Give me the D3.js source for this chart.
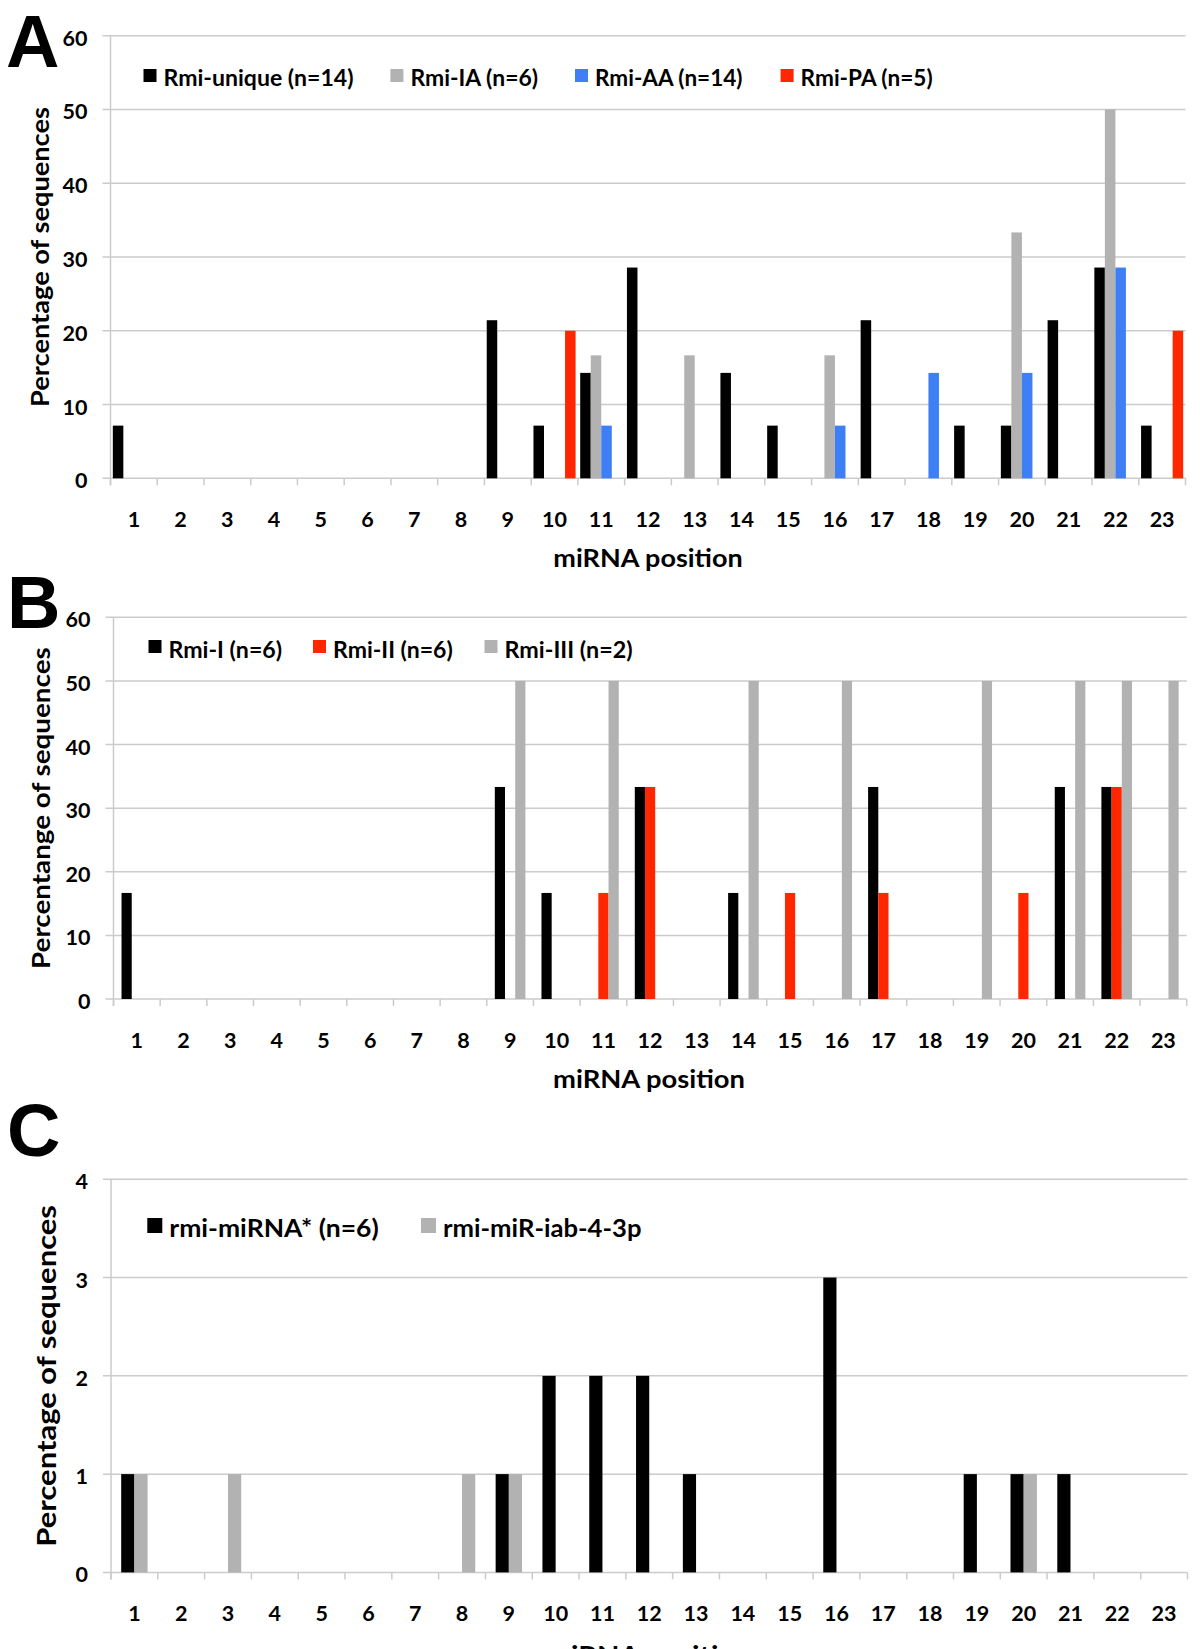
<!DOCTYPE html>
<html>
<head>
<meta charset="utf-8">
<script src="https://cdn.jsdelivr.net/npm/d3@7"></script>
<style>
  html, body { margin: 0; padding: 0; background: #fff; }
  svg { display: block; }
  text { font-family: Lato, "Open Sans", "Liberation Sans", sans-serif; font-weight: bold; fill: #000; }
  .panel-letter { font-family: "Liberation Sans", Arial, sans-serif; font-weight: bold; }
</style>
</head>
<body>
<svg id="chart" width="1200" height="1649"></svg>
<script>
// ---------------- DATA ----------------
const positions = ["1","2","3","4","5","6","7","8","9","10","11","12","13","14","15","16","17","18","19","20","21","22","23"];

// Panel A
const seriesA = ["Rmi-unique (n=14)", "Rmi-IA (n=6)", "Rmi-AA (n=14)", "Rmi-PA (n=5)"];
const rmiUnique = [7.14,0,0,0,0,0,0,0,21.43,7.14,14.29,28.57,0,14.29,7.14,0,21.43,0,7.14,7.14,21.43,28.57,7.14];
const rmiIA     = [0,0,0,0,0,0,0,0,0,0,16.67,0,16.67,0,0,16.67,0,0,0,33.33,0,50,0];
const rmiAA     = [0,0,0,0,0,0,0,0,0,0,7.14,0,0,0,0,7.14,0,14.29,0,14.29,0,28.57,0];
const rmiPA     = [0,0,0,0,0,0,0,0,0,20,0,0,0,0,0,0,0,0,0,0,0,0,20];
const ticksA = [0,10,20,30,40,50,60];

// Panel B
const seriesB = ["Rmi-I (n=6)", "Rmi-II (n=6)", "Rmi-III (n=2)"];
const rmiI   = [16.67,0,0,0,0,0,0,0,33.33,16.67,0,33.33,0,16.67,0,0,33.33,0,0,0,33.33,33.33,0];
const rmiII  = [0,0,0,0,0,0,0,0,0,0,16.67,33.33,0,0,16.67,0,16.67,0,0,16.67,0,33.33,0];
const rmiIII = [0,0,0,0,0,0,0,0,50,0,50,0,0,50,0,50,0,0,50,0,50,50,50];
const ticksB = [0,10,20,30,40,50,60];

// Panel C
const seriesC = ["rmi-miRNA* (n=6)", "rmi-miR-iab-4-3p"];
const rmiStar = [1,0,0,0,0,0,0,0,1,2,2,2,1,0,0,3,0,0,1,1,1,0,0];
const rmiIab  = [1,0,1,0,0,0,0,1,1,0,0,0,0,0,0,0,0,0,0,1,0,0,0];
const ticksC = [0,1,2,3,4];

// ---------------- STYLE / LAYOUT ----------------
const BLACK = "#000000", GRAY = "#b2b2b2", BLUE = "#3f7ff6", RED = "#ff2600";
const GRID = "#cbcbcb";

const panels = [
  {
    letter: "A", letterX: 6, letterY: 67,
    series: seriesA, values: [rmiUnique, rmiIA, rmiAA, rmiPA], colors: [BLACK, GRAY, BLUE, RED],
    ticks: ticksA, domainMax: 60,
    x0: 110.5, x1: 1185.5, yTop: 35.7, yZero: 478.3, padOuter: 0.22,
    legend: { xs: [143.5, 390.4, 575, 780.6], top: 69, size: 13, baseline: 86, font: 22,
              lens: [190, 127.7, 147.5, 132] },
    yTitle: "Percentage of sequences", yTitleX: 49, yTitleFont: 25, yTitleLen: 300,
    xTitle: "miRNA position", xTitleX: 648, xTitleFont: 25, xTitleLen: 189.4, xTitleDy: 88.5
  },
  {
    letter: "B", letterX: 7, letterY: 628,
    series: seriesB, values: [rmiI, rmiII, rmiIII], colors: [BLACK, RED, GRAY],
    ticks: ticksB, domainMax: 60,
    x0: 113.5, x1: 1186.7, yTop: 617.3, yZero: 999, padOuter: 0.787,
    legend: { xs: [148.5, 313, 484.5], top: 640, size: 13, baseline: 658, font: 22,
              lens: [113.6, 119.8, 128.1] },
    yTitle: "Percentange of sequences", yTitleX: 50, yTitleFont: 25, yTitleLen: 321.6,
    xTitle: "miRNA position", xTitleX: 649, xTitleFont: 25, xTitleLen: 192, xTitleDy: 88.5
  },
  {
    letter: "C", letterX: 7, letterY: 1156,
    series: seriesC, values: [rmiStar, rmiIab], colors: [BLACK, GRAY],
    ticks: ticksC, domainMax: 4,
    x0: 111, x1: 1187.5, yTop: 1179.3, yZero: 1572.4, padOuter: 0.773,
    legend: { xs: [147.3, 421], top: 1218, size: 15, baseline: 1237, font: 25,
              lens: [209.4, 198.5] },
    yTitle: "Percentage of sequences", yTitleX: 56, yTitleFont: 27, yTitleLen: 341.7,
    xTitle: "miRNA position", xTitleX: 649, xTitleFont: 27, xTitleLen: 205, xTitleDy: 93
  }
];

const svg = d3.select("#chart");
svg.append("rect").attr("width", 1200).attr("height", 1649).attr("fill", "#fff");

panels.forEach(p => {
  const g = svg.append("g");

  const x = d3.scaleBand().domain(positions).range([p.x0, p.x1]).paddingInner(0).paddingOuter(0);
  const xs = d3.scaleBand().domain(d3.range(p.series.length)).range([0, x.bandwidth()])
               .paddingInner(0).paddingOuter(p.padOuter);
  const y = d3.scaleLinear().domain([0, p.domainMax]).range([p.yZero, p.yTop]);

  // gridlines
  g.append("g").selectAll("line").data(p.ticks).join("line")
    .attr("x1", p.x0 - 8).attr("x2", p.x1)
    .attr("y1", d => y(d)).attr("y2", d => y(d))
    .attr("stroke", GRID).attr("stroke-width", 1.5);

  // y axis line
  g.append("line").attr("x1", p.x0).attr("x2", p.x0).attr("y1", p.yTop).attr("y2", p.yZero + 7)
    .attr("stroke", GRID).attr("stroke-width", 1.5);

  // x ticks at category boundaries
  const bounds = positions.map(c => x(c)).concat([p.x1]);
  g.append("g").selectAll("line").data(bounds).join("line")
    .attr("x1", d => d).attr("x2", d => d)
    .attr("y1", p.yZero).attr("y2", p.yZero + 7)
    .attr("stroke", GRID).attr("stroke-width", 1.5);

  // y tick labels
  g.append("g").selectAll("text").data(p.ticks).join("text")
    .attr("x", p.x0 - 23).attr("y", d => y(d) + 10)
    .attr("text-anchor", "end").attr("font-size", 21.5)
    .text(d => d);

  // x tick labels
  g.append("g").selectAll("text").data(positions).join("text")
    .attr("x", d => x(d) + x.bandwidth() / 2).attr("y", p.yZero + 48.5)
    .attr("text-anchor", "middle").attr("font-size", 21.5)
    .text(d => d);

  // bars
  p.series.forEach((s, si) => {
    const data = positions.map((c, i) => ({ c, v: p.values[si][i] })).filter(d => d.v > 0);
    g.append("g").selectAll("rect").data(data).join("rect")
      .attr("x", d => x(d.c) + xs(si))
      .attr("width", xs.bandwidth())
      .attr("y", d => y(d.v))
      .attr("height", d => y(0) - y(d.v))
      .attr("fill", p.colors[si]);
  });

  // legend
  p.series.forEach((s, si) => {
    const lx = p.legend.xs[si];
    g.append("rect").attr("x", lx).attr("y", p.legend.top)
      .attr("width", p.legend.size).attr("height", p.legend.size).attr("fill", p.colors[si]);
    g.append("text").attr("x", lx + p.legend.size + 7).attr("y", p.legend.baseline)
      .attr("font-size", p.legend.font)
      .attr("textLength", p.legend.lens[si]).attr("lengthAdjust", "spacingAndGlyphs")
      .text(s);
  });

  // axis titles
  const cy = (p.yTop + p.yZero) / 2;
  g.append("text")
    .attr("transform", `translate(${p.yTitleX},${cy}) rotate(-90)`)
    .attr("text-anchor", "middle").attr("font-size", p.yTitleFont)
    .attr("textLength", p.yTitleLen).attr("lengthAdjust", "spacingAndGlyphs")
    .text(p.yTitle);
  g.append("text")
    .attr("x", p.xTitleX).attr("y", p.yZero + p.xTitleDy)
    .attr("text-anchor", "middle").attr("font-size", p.xTitleFont)
    .attr("textLength", p.xTitleLen).attr("lengthAdjust", "spacingAndGlyphs")
    .text(p.xTitle);

  // panel letter
  g.append("text").attr("class", "panel-letter")
    .attr("x", p.letterX).attr("y", p.letterY)
    .attr("font-size", 74).text(p.letter);
});
</script>
</body>
</html>
